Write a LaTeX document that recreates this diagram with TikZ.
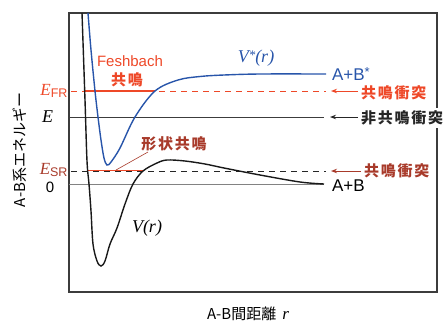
\documentclass[tikz,border=0pt]{standalone}
\usepackage{fontspec}
\setmainfont{Liberation Sans}
\newfontfamily\jp{Noto Sans CJK JP}
\newfontfamily\jpsp{Noto Sans CJK JP}[LetterSpace=12]
\newfontfamily\tim{Liberation Serif}
\usetikzlibrary{arrows.meta}
\definecolor{cblue}{RGB}{40,85,170}
\definecolor{cred}{RGB}{238,72,40}
\definecolor{cbrown}{RGB}{168,58,42}
\definecolor{cframe}{RGB}{60,60,60}
\definecolor{cgray}{RGB}{130,130,130}
\tikzset{
  lbl/.style={inner sep=0pt, outer sep=0pt},
  jpb/.style={lbl, font=\jpsp\bfseries\fontsize{15}{18}\selectfont},
  jpn/.style={lbl, font=\jp\fontsize{15}{17}\selectfont},
  latin/.style={lbl, font=\fontsize{17}{19}\selectfont},
  ital/.style={lbl, font=\tim\itshape\fontsize{18}{20}\selectfont},
  dashline/.style={line width=1pt, dash pattern=on 6pt off 5pt},
  arr/.style={line width=1pt, -{Stealth[length=6pt,width=4.5pt]}},
}
\begin{document}
\begin{tikzpicture}[x=1pt,y=-1pt]
\useasboundingbox (0,0) rectangle (447,322);
% frame
\draw[cframe, line width=1.1pt] (69,13) rectangle (437,292);
% reference lines
\draw[cgray, line width=1pt] (69,184) -- (324,184);
\draw[cframe, line width=1pt] (69,117) -- (324,117);
\draw[cred, dashline] (71,91) -- (326,91);
\draw[cred, line width=1.3pt] (85,91) -- (155,91);
\draw[cred, line width=1.3pt] (87,170.5) -- (143,170.5);
\draw[black!85, dashline] (71,171) -- (326,171);
% V(r)
\draw[black!90, line width=1.4pt] plot[smooth, tension=0.55] coordinates {
 (82,13) (85,100) (87,161) (89,184) (91,211) (93,244) (97,261) (101,266)
 (105,261) (110,244) (117,228) (125,204) (133,184) (143,171) (157,163)
 (167,160) (185,161) (205,164) (224,168) (260,175) (300,182) (324,184)};
% V*(r)
\draw[cblue, line width=1.4pt] plot[smooth, tension=0.55] coordinates {
 (88,13) (91,50) (95,91) (98,117) (101,140) (104,158) (107,165)
 (111,162) (120,148) (135,117) (155,91) (178,80) (200,76.5) (224,75)
 (260,74) (326,74)};
% leader for shape resonance
\coordinate (ldA) at (116,170);
\coordinate (ldB) at (148,152);
\draw[cbrown, line width=0.6pt] (ldA) -- (ldB);
% labels
\node[lbl, text=cred, font=\fontsize{15}{17}\selectfont] (fesh) at (130,61) {Feshbach};
\node[jpb, text=cred] (kyomei) at (127,80) {共鳴};
\node[lbl, anchor=east, text=cred] (efr) at (67.5,91) {\tim\itshape\fontsize{17}{19}\selectfont E\fontsize{12.5}{14}\upshape\rmfamily\raisebox{-2.5pt}{FR}};
\node[ital] (elab) at (47.5,117) {E};
\node[lbl, anchor=east, text=cbrown] (esr) at (67.5,170) {\tim\itshape\fontsize{17}{19}\selectfont E\fontsize{12.5}{14}\upshape\rmfamily\raisebox{-2.5pt}{SR}};
\node[lbl, font=\fontsize{15}{17}\selectfont] (zero) at (50,187) {0};
\node[jpb, text=cbrown] (keijo) at (174,144) {形状共鳴};
\node[ital, text=cblue] (vstar) at (256,58) {V\raisebox{3pt}{\fontsize{13}{14}\selectfont *}(r)};
\node[latin, text=cblue, anchor=west] (abstar) at (332,74) {A+B\raisebox{4pt}{\fontsize{13}{14}\selectfont *}};
\node[latin, anchor=west] (ab) at (332,186) {A+B};
\node[ital] (vr) at (147,228) {V(r)};
\node[jpn, rotate=90] (ylab) at (20,150) {A-B系エネルギー};
\node[jpn] (xlab) at (248,314) {A-B間距離\hspace{6pt}{\tim\itshape\fontsize{17}{19}\selectfont r}};
% right labels and arrows
\node[jpb, text=cred, anchor=west] (r1) at (361,93) {共鳴衝突};
\node[jpb, text=black!85, anchor=west, fill=white, inner ysep=3pt] (r2) at (361,118) {非共鳴衝突};
\node[jpb, text=cbrown, anchor=west] (r3) at (364,171) {共鳴衝突};
\coordinate (t1) at (331,91);
\coordinate (t2) at (330,117);
\coordinate (t3) at (331,171);
\draw[arr, cred] (r1.west |- t1) ++(-3,0) -- (t1);
\draw[arr, black!85] (r2.west |- t2) ++(-3,0) -- (t2);
\draw[arr, cbrown] (r3.west |- t3) ++(-3,0) -- (t3);
\end{tikzpicture}
\end{document}
